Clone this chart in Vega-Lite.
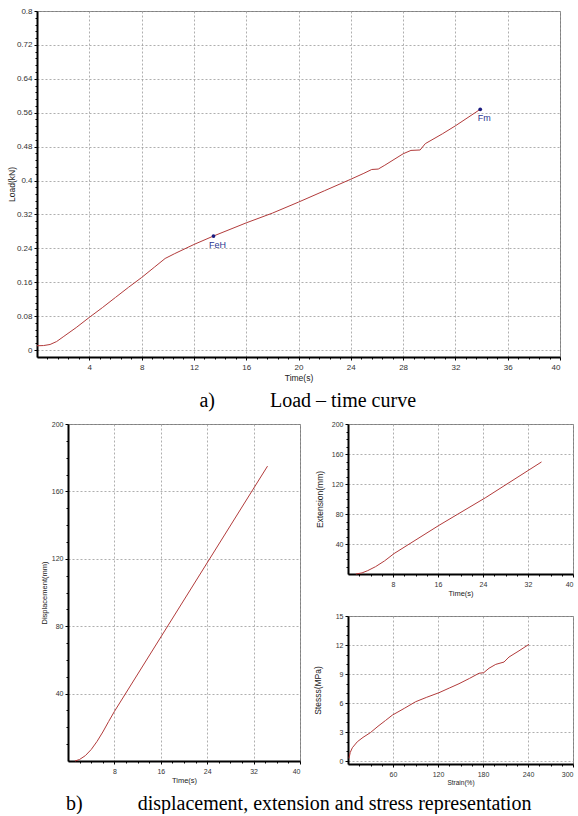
{
  "$schema": "https://vega.github.io/schema/vega-lite/v6.json",
  "padding": {"left": 6, "top": 6, "right": 0, "bottom": 0},
  "background": "white",
  "config": {
    "font": "Liberation Sans",
    "view": {"stroke": "#7f7f7f", "strokeWidth": 1},
    "axis": {
      "domainColor": "#000000", "domainWidth": 2,
      "tickColor": "#000000", "tickSize": 3, "tickWidth": 1,
      "labelFont": "Liberation Sans", "labelColor": "#333333", "labelOverlap": false,
      "titleFont": "Liberation Sans", "titleFontWeight": "normal", "titleColor": "#222222",
      "grid": true, "gridColor": "#9a9a9a", "gridDash": [2, 2], "gridWidth": 0.8
    },
    "title": {"font": "Liberation Serif", "fontWeight": "normal", "color": "#000000", "fontSize": 20}
  },
  "datasets": {
    "load": [
      {"t": 0, "L": 0.010}, {"t": 0.5, "L": 0.0105}, {"t": 1.0, "L": 0.013}, {"t": 1.5, "L": 0.020},
      {"t": 2, "L": 0.031}, {"t": 3, "L": 0.053}, {"t": 4, "L": 0.077}, {"t": 5, "L": 0.100},
      {"t": 6, "L": 0.124}, {"t": 7, "L": 0.148}, {"t": 8, "L": 0.171}, {"t": 9, "L": 0.196},
      {"t": 9.8, "L": 0.216}, {"t": 10.5, "L": 0.227}, {"t": 12, "L": 0.249}, {"t": 13.5, "L": 0.269},
      {"t": 16, "L": 0.300}, {"t": 18, "L": 0.323}, {"t": 20, "L": 0.349}, {"t": 22, "L": 0.376},
      {"t": 24, "L": 0.403}, {"t": 25, "L": 0.417}, {"t": 25.6, "L": 0.426}, {"t": 26.1, "L": 0.427},
      {"t": 26.6, "L": 0.436}, {"t": 28, "L": 0.463}, {"t": 28.6, "L": 0.471}, {"t": 29.3, "L": 0.472},
      {"t": 29.7, "L": 0.487}, {"t": 31, "L": 0.510}, {"t": 32, "L": 0.529}, {"t": 33.9, "L": 0.568}
    ],
    "marks": [
      {"t": 13.5, "L": 0.269, "label": "FeH"},
      {"t": 33.9, "L": 0.568, "label": "Fm"}
    ],
    "disp": [
      {"t": 1.2, "D": 0}, {"t": 2, "D": 0.9}, {"t": 3, "D": 3.2}, {"t": 4, "D": 6.8}, {"t": 5, "D": 11.6},
      {"t": 6, "D": 17.2}, {"t": 7, "D": 23.4}, {"t": 8, "D": 29.4}, {"t": 34.4, "D": 175}
    ],
    "ext": [
      {"t": 1.4, "E": 0}, {"t": 2.5, "E": 1.5}, {"t": 3.5, "E": 4.5}, {"t": 4.9, "E": 9.8},
      {"t": 6.5, "E": 17.5}, {"t": 8.2, "E": 27.3}, {"t": 16.2, "E": 65}, {"t": 24.5, "E": 102},
      {"t": 34.4, "E": 149.4}
    ],
    "stress": [
      {"s": 1.3, "S": 0.28}, {"s": 3, "S": 0.9}, {"s": 5.8, "S": 1.38}, {"s": 12.4, "S": 2.0},
      {"s": 20, "S": 2.45}, {"s": 30, "S": 2.95}, {"s": 40, "S": 3.6}, {"s": 50, "S": 4.2},
      {"s": 59.1, "S": 4.75}, {"s": 75, "S": 5.45}, {"s": 90.2, "S": 6.14}, {"s": 105, "S": 6.6},
      {"s": 121.3, "S": 7.07}, {"s": 135, "S": 7.55}, {"s": 148, "S": 8.0}, {"s": 162, "S": 8.55},
      {"s": 174.7, "S": 9.08}, {"s": 181, "S": 9.14}, {"s": 188, "S": 9.6}, {"s": 197, "S": 10.0},
      {"s": 208, "S": 10.24}, {"s": 214.7, "S": 10.76}, {"s": 228, "S": 11.4}, {"s": 241.3, "S": 12.07}
    ],
    "empty": []
  },
  "bounds": "flush",
  "spacing": 67,
  "vconcat": [
    {
      "width": 523, "height": 346,
      "title": {"text": "a)\u00a0\u00a0\u00a0\u00a0\u00a0\u00a0\u00a0\u00a0\u00a0\u00a0\u00a0Load – time curve", "orient": "bottom", "anchor": "start", "dx": 192, "offset": 9},
      "resolve": {"axis": {"x": "independent", "y": "independent"}},
      "layer": [
        {
          "data": {"name": "load"},
          "mark": {"type": "line", "color": "#b23b3b", "strokeWidth": 1},
          "encoding": {
            "x": {"field": "t", "type": "quantitative", "scale": {"domain": [0, 40], "nice": false, "zero": false},
                  "axis": {"orient": "bottom", "values": [4, 8, 12, 16, 20, 24, 28, 32, 36, 40], "title": "Time(s)", "labelFontSize": 8, "titleFontSize": 8.5, "labelPadding": 3, "titlePadding": 2}},
            "y": {"field": "L", "type": "quantitative", "scale": {"domain": [-0.0165, 0.8], "nice": false, "zero": false},
                  "axis": {"orient": "left", "values": [0, 0.08, 0.16, 0.24, 0.32, 0.4, 0.48, 0.56, 0.64, 0.72, 0.8], "format": ".2~f", "title": "Load(kN)", "labelFontSize": 8, "titleFontSize": 8.5, "labelPadding": 2, "titlePadding": 0}}
          }
        },
        {
          "data": {"name": "marks"},
          "mark": {"type": "point", "filled": true, "color": "#1c1c80", "size": 14, "opacity": 1},
          "encoding": {
            "x": {"field": "t", "type": "quantitative",
                  "axis": {"orient": "bottom", "values": [0.8, 1.6, 2.4, 3.2, 4.8, 5.6, 6.4, 7.2, 8.8, 9.6, 10.4, 11.2, 12.8, 13.6, 14.4, 15.2, 16.8, 17.6, 18.4, 19.2, 20.8, 21.6, 22.4, 23.2, 24.8, 25.6, 26.4, 27.2, 28.8, 29.6, 30.4, 31.2, 32.8, 33.6, 34.4, 35.2, 36.8, 37.6, 38.4, 39.2], "labels": false, "grid": false, "domain": false, "title": null, "tickSize": 2}},
            "y": {"field": "L", "type": "quantitative",
                  "axis": {"orient": "left", "values": [0.016, 0.032, 0.048, 0.064, 0.096, 0.112, 0.128, 0.144, 0.176, 0.192, 0.208, 0.224, 0.256, 0.272, 0.288, 0.304, 0.336, 0.352, 0.368, 0.384, 0.416, 0.432, 0.448, 0.464, 0.496, 0.512, 0.528, 0.544, 0.576, 0.592, 0.608, 0.624, 0.656, 0.672, 0.688, 0.704, 0.736, 0.752, 0.768, 0.784], "labels": false, "grid": false, "domain": false, "title": null, "tickSize": 2}}
          }
        },
        {
          "data": {"name": "marks"},
          "mark": {"type": "text", "color": "#2a3590", "fontSize": 9, "dx": 4, "dy": 9, "font": "Liberation Sans"},
          "encoding": {"x": {"field": "t", "type": "quantitative", "axis": null}, "y": {"field": "L", "type": "quantitative", "axis": null}, "text": {"field": "label"}}
        }
      ]
    },
    {
      "bounds": "flush",
      "spacing": 0,
      "title": {"text": "b)\u00a0\u00a0\u00a0\u00a0\u00a0\u00a0\u00a0\u00a0\u00a0\u00a0\u00a0displacement, extension and stress representation", "orient": "bottom", "anchor": "start", "dx": 29, "offset": 8},
      "hconcat": [
        {
          "width": 31, "height": 10,
          "view": {"stroke": null},
          "data": {"name": "empty"},
          "mark": "point"
        },
        {
          "bounds": "flush",
          "spacing": 48,
          "hconcat": [
            {
              "width": 232, "height": 337,
              "data": {"name": "disp"},
              "resolve": {"axis": {"x": "independent", "y": "independent"}},
              "layer": [
                {
                  "mark": {"type": "line", "color": "#b23b3b", "strokeWidth": 1},
                  "encoding": {
                    "x": {"field": "t", "type": "quantitative", "scale": {"domain": [0, 40], "nice": false, "zero": false},
                          "axis": {"orient": "bottom", "values": [8, 16, 24, 32, 40], "title": "Time(s)", "labelFontSize": 7, "titleFontSize": 7.5, "labelPadding": 3, "titlePadding": 2}},
                    "y": {"field": "D", "type": "quantitative", "scale": {"domain": [0, 200], "nice": false, "zero": false},
                          "axis": {"orient": "left", "values": [40, 80, 120, 160, 200], "title": "Displacement(mm)", "labelFontSize": 7, "titleFontSize": 7.5, "labelPadding": 2, "titlePadding": 3}}
                  }
                },
                {
                  "mark": {"type": "line", "opacity": 0},
                  "encoding": {
                    "x": {"field": "t", "type": "quantitative",
                          "axis": {"orient": "bottom", "values": [2, 4, 6, 10, 12, 14, 18, 20, 22, 26, 28, 30, 34, 36, 38], "labels": false, "grid": false, "domain": false, "title": null, "tickSize": 2}},
                    "y": {"field": "D", "type": "quantitative",
                          "axis": {"orient": "left", "values": [10, 20, 30, 50, 60, 70, 90, 100, 110, 130, 140, 150, 170, 180, 190], "labels": false, "grid": false, "domain": false, "title": null, "tickSize": 2}}
                  }
                }
              ]
            },
            {
              "bounds": "flush",
              "spacing": 42,
              "vconcat": [
                {
                  "width": 225, "height": 150,
                  "data": {"name": "ext"},
                  "resolve": {"axis": {"x": "independent", "y": "independent"}},
                  "layer": [
                    {
                      "mark": {"type": "line", "color": "#b23b3b", "strokeWidth": 1},
                      "encoding": {
                        "x": {"field": "t", "type": "quantitative", "scale": {"domain": [0, 40], "nice": false, "zero": false},
                              "axis": {"orient": "bottom", "values": [8, 16, 24, 32, 40], "title": "Time(s)", "labelFontSize": 7, "titleFontSize": 7.5, "labelPadding": 3, "titlePadding": 2}},
                        "y": {"field": "E", "type": "quantitative", "scale": {"domain": [0, 200], "nice": false, "zero": false},
                              "axis": {"orient": "left", "values": [40, 80, 120, 160, 200], "title": "Extension(mm)", "labelFontSize": 7, "titleFontSize": 8.5, "labelPadding": 2, "titlePadding": 7}}
                      }
                    },
                    {
                      "mark": {"type": "line", "opacity": 0},
                      "encoding": {
                        "x": {"field": "t", "type": "quantitative",
                              "axis": {"orient": "bottom", "values": [2, 4, 6, 10, 12, 14, 18, 20, 22, 26, 28, 30, 34, 36, 38], "labels": false, "grid": false, "domain": false, "title": null, "tickSize": 2}},
                        "y": {"field": "E", "type": "quantitative",
                              "axis": {"orient": "left", "values": [10, 20, 30, 50, 60, 70, 90, 100, 110, 130, 140, 150, 170, 180, 190], "labels": false, "grid": false, "domain": false, "title": null, "tickSize": 2}}
                      }
                    }
                  ]
                },
                {
                  "width": 225, "height": 148,
                  "data": {"name": "stress"},
                  "resolve": {"axis": {"x": "independent", "y": "independent"}},
                  "layer": [
                    {
                      "mark": {"type": "line", "color": "#b23b3b", "strokeWidth": 1},
                      "encoding": {
                        "x": {"field": "s", "type": "quantitative", "scale": {"domain": [0, 300], "nice": false, "zero": false},
                              "axis": {"orient": "bottom", "values": [60, 120, 180, 240, 300], "title": "Strain(%)", "labelFontSize": 7, "titleFontSize": 6.5, "labelPadding": 3, "titlePadding": 2}},
                        "y": {"field": "S", "type": "quantitative", "scale": {"domain": [-0.3, 15], "nice": false, "zero": false},
                              "axis": {"orient": "left", "values": [0, 3, 6, 9, 12, 15], "title": "Stesss(MPa)", "labelFontSize": 7, "titleFontSize": 8.5, "labelPadding": 2, "titlePadding": 13}}
                      }
                    },
                    {
                      "mark": {"type": "line", "opacity": 0},
                      "encoding": {
                        "x": {"field": "s", "type": "quantitative",
                              "axis": {"orient": "bottom", "values": [15, 30, 45, 75, 90, 105, 135, 150, 165, 195, 210, 225, 255, 270, 285], "labels": false, "grid": false, "domain": false, "title": null, "tickSize": 2}},
                        "y": {"field": "S", "type": "quantitative",
                              "axis": {"orient": "left", "values": [1, 2, 4, 5, 7, 8, 10, 11, 13, 14], "labels": false, "grid": false, "domain": false, "title": null, "tickSize": 2}}
                      }
                    }
                  ]
                }
              ]
            }
          ]
        }
      ]
    }
  ]
}
